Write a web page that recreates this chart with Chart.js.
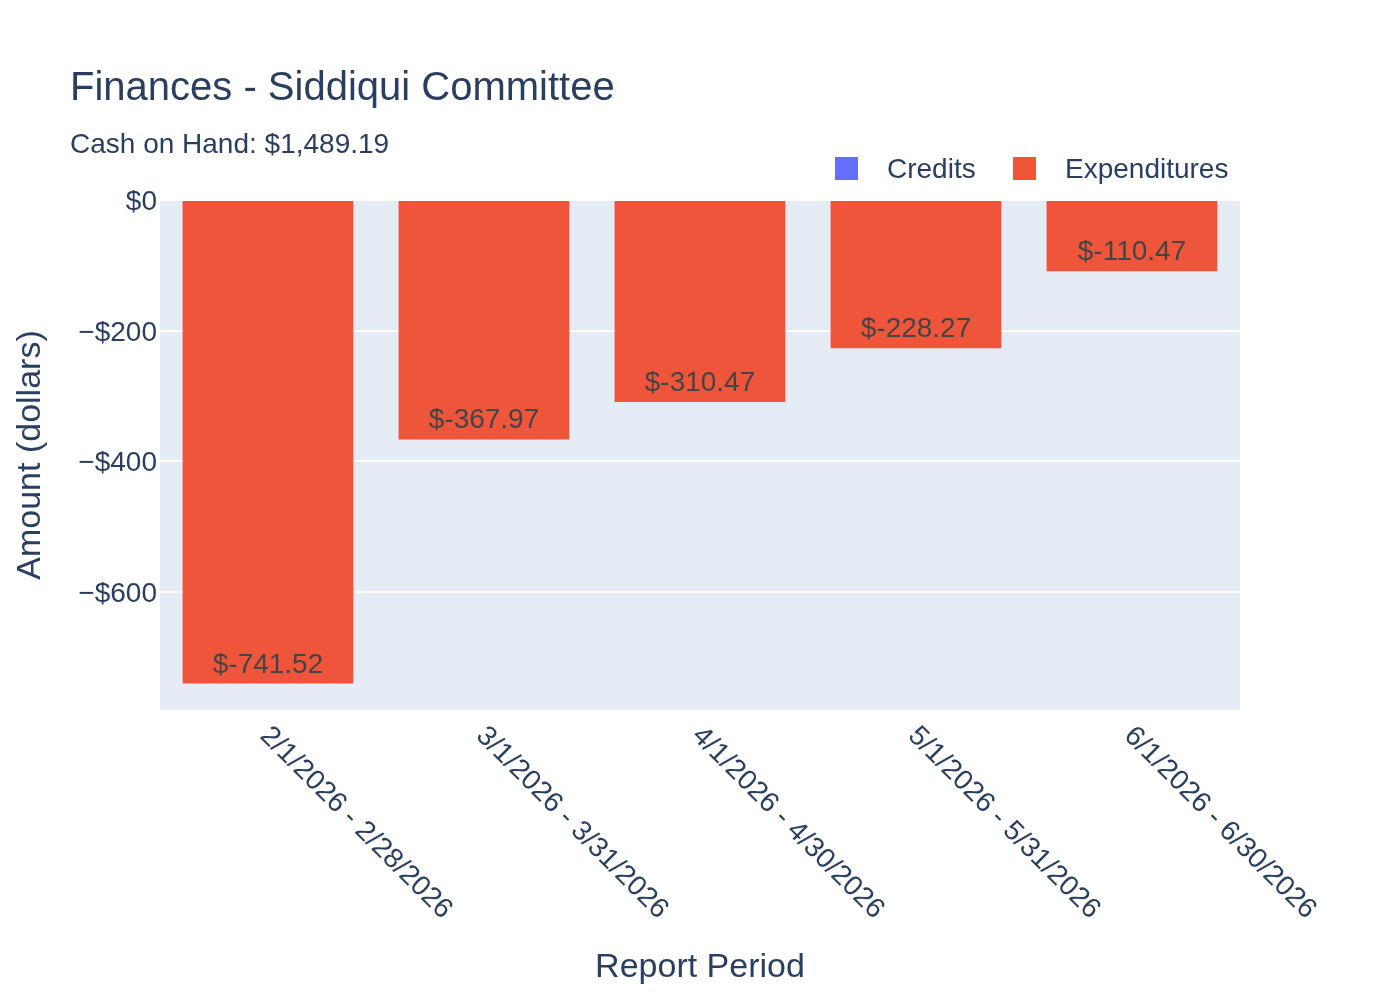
<!DOCTYPE html>
<html>
<head>
<meta charset="utf-8">
<script src="https://cdn.jsdelivr.net/npm/chart.js@4.4.1/dist/chart.umd.min.js"></script>
<style>
  html, body { margin: 0; padding: 0; background: #ffffff; }
  #wrap { width: 1400px; height: 1000px; }
</style>
</head>
<body>
<div id="wrap"><canvas id="c" width="1400" height="1000"></canvas></div>
<script>
// ---- data ----
const categories = [
  "2/1/2026 - 2/28/2026",
  "3/1/2026 - 3/31/2026",
  "4/1/2026 - 4/30/2026",
  "5/1/2026 - 5/31/2026",
  "6/1/2026 - 6/30/2026"
];
const credits = [0, 0, 0, 0, 0];
const expenditures = [-741.52, -367.97, -310.47, -228.27, -110.47];
const yTickValues = [0, -200, -400, -600];
const titleText = "Finances - Siddiqui Committee";
const subtitleText = "Cash on Hand: $1,489.19";
const xAxisTitle = "Report Period";
const yAxisTitle = "Amount (dollars)";

const FONT = '"Liberation Sans", Arial, sans-serif';
const TXT = '#2a3f5f';

function fmtTick(v) {
  if (v === 0) return '$0';
  return (v < 0 ? '\u2212' : '') + '$' + Math.abs(v).toLocaleString('en-US');
}
function fmtBar(v) {
  return '$' + v.toFixed(2);
}

const plotBg = {
  id: 'plotBg',
  beforeDraw(chart) {
    const { ctx, chartArea: a } = chart;
    ctx.save();
    ctx.fillStyle = '#E5ECF6';
    ctx.fillRect(a.left, a.top, a.right - a.left, a.bottom - a.top);
    ctx.restore();
  }
};

const decor = {
  id: 'decor',
  afterDraw(chart) {
    const { ctx, chartArea: a, scales } = chart;
    ctx.save();
    // title + subtitle
    ctx.fillStyle = TXT;
    ctx.textAlign = 'left';
    ctx.textBaseline = 'alphabetic';
    ctx.font = '40px ' + FONT;
    ctx.fillText(titleText, 70, 100);
    ctx.font = '28px ' + FONT;
    ctx.fillText(subtitleText, 70, 153);

    // legend
    const ds = chart.data.datasets;
    const legendX = [835, 1013];
    ds.forEach((d, i) => {
      const x = legendX[i];
      ctx.fillStyle = d.backgroundColor;
      ctx.fillRect(x, 157, 23, 23);
      ctx.fillStyle = TXT;
      ctx.font = '28px ' + FONT;
      ctx.fillText(d.label, x + 52, 178);
    });

    // y tick labels
    const ys = scales.y;
    ctx.font = '28px ' + FONT;
    ctx.textAlign = 'right';
    ctx.textBaseline = 'alphabetic';
    yTickValues.forEach(v => {
      ctx.fillText(fmtTick(v), a.left - 3, ys.getPixelForValue(v) + 10);
    });

    // x tick labels (rotated +45)
    const xs = scales.x;
    ctx.font = '28px ' + FONT;
    ctx.textAlign = 'left';
    ctx.textBaseline = 'alphabetic';
    categories.forEach((c, i) => {
      const px = xs.getPixelForValue(i);
      ctx.save();
      ctx.translate(px - 9, a.bottom + 27);
      ctx.rotate(Math.PI / 4);
      ctx.fillText(c, 0, 0);
      ctx.restore();
    });

    // axis titles
    ctx.font = '34px ' + FONT;
    ctx.textAlign = 'center';
    ctx.fillText(xAxisTitle, (a.left + a.right) / 2, 977);
    ctx.save();
    ctx.translate(40, (a.top + a.bottom) / 2);
    ctx.rotate(-Math.PI / 2);
    ctx.fillText(yAxisTitle, 0, 0);
    ctx.restore();

    // bar value labels (inside end)
    const meta = chart.getDatasetMeta(1);
    ctx.font = '28px ' + FONT;
    ctx.fillStyle = '#444444';
    ctx.textAlign = 'center';
    ctx.textBaseline = 'alphabetic';
    meta.data.forEach((el, i) => {
      ctx.fillText(fmtBar(expenditures[i]), el.x, el.y - 12);
    });
    ctx.restore();
  }
};

new Chart(document.getElementById('c'), {
  type: 'bar',
  data: {
    labels: categories,
    datasets: [
      { label: 'Credits', data: credits, backgroundColor: '#636EFA', borderWidth: 0 },
      { label: 'Expenditures', data: expenditures, backgroundColor: '#EF553B',
        borderColor: 'rgba(229,236,246,0.7)', borderWidth: 1 }
    ]
  },
  options: {
    responsive: false,
    animation: false,
    devicePixelRatio: 1,
    layout: { padding: { left: 160, right: 160, top: 200, bottom: 290 } },
    plugins: { legend: { display: false }, tooltip: { enabled: false }, title: { display: false } },
    datasets: { bar: { categoryPercentage: 0.8, barPercentage: 1.0 } },
    scales: {
      x: {
        stacked: true,
        grid: { display: false, drawTicks: false },
        border: { display: false },
        ticks: { display: false }
      },
      y: {
        stacked: true,
        min: -780.4,
        max: 0,
        afterBuildTicks(scale) {
          scale.ticks = yTickValues.map(v => ({ value: v }));
        },
        grid: { color: '#ffffff', lineWidth: 2, drawTicks: false },
        border: { display: false },
        ticks: { display: false }
      }
    }
  },
  plugins: [plotBg, decor]
});
</script>
</body>
</html>
